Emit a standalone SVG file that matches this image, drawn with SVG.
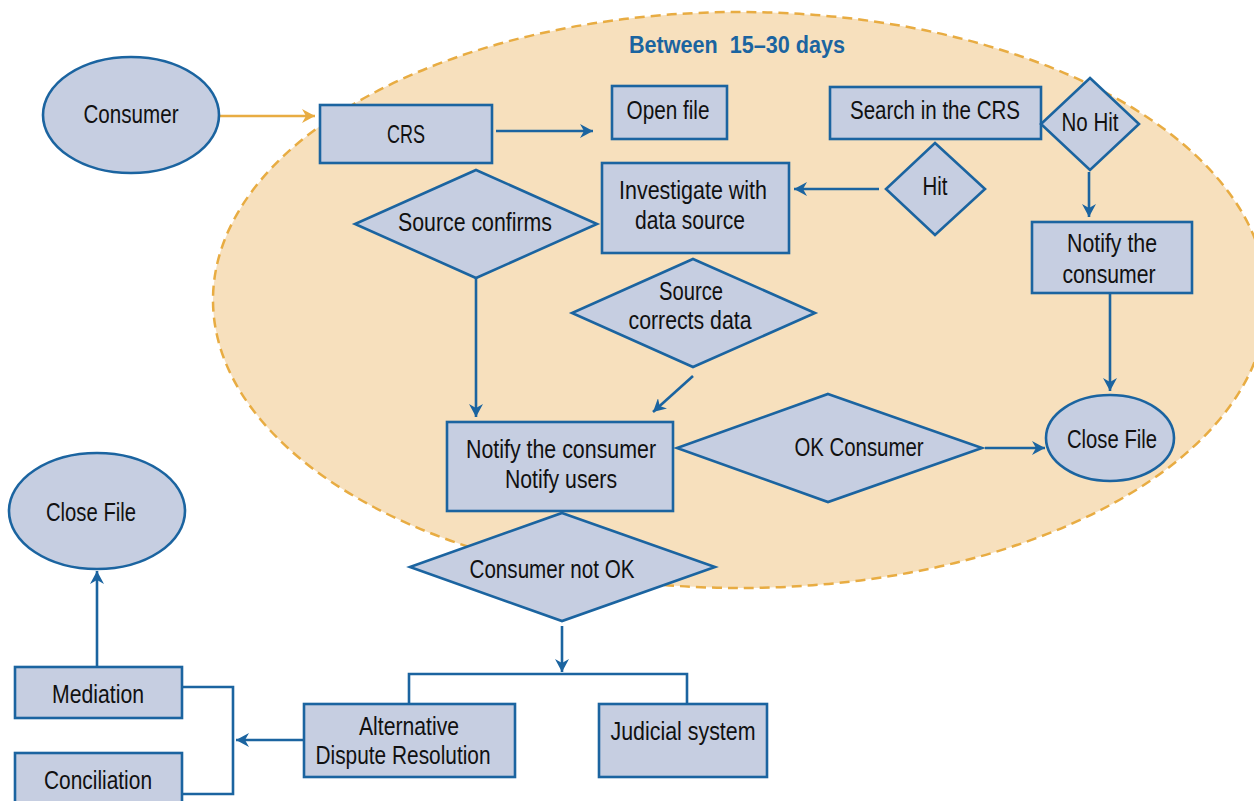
<svg xmlns="http://www.w3.org/2000/svg" width="1254" height="801" viewBox="0 0 1254 801">
  <style>
    .node { fill: #c6cee1; stroke: #1b64a0; stroke-width: 2.6; }
    .lbl { font-family: "Liberation Sans", Arial, sans-serif; font-size: 25.5px; fill: #111; text-anchor: middle; }
    .title { font-family: "Liberation Sans", Arial, sans-serif; font-size: 23.5px; font-weight: bold; fill: #1b64a0; text-anchor: middle; }
    .edge { fill: none; stroke: #1b64a0; stroke-width: 2.6; }
    .edge-in { fill: none; stroke: #e8ac42; stroke-width: 2.6; }
  </style>
  <defs>
    <marker id="arrow" markerUnits="userSpaceOnUse" markerWidth="14" markerHeight="14" refX="13" refY="7" orient="auto">
      <path d="M0,0 L13,7 L0,14 L4,7 Z" fill="#1b64a0"/>
    </marker>
    <marker id="arrow-in" markerUnits="userSpaceOnUse" markerWidth="14" markerHeight="14" refX="13" refY="7" orient="auto">
      <path d="M0,0 L13,7 L0,14 L4,7 Z" fill="#e8ac42"/>
    </marker>
  </defs>

  <rect width="1254" height="801" fill="#ffffff"/>

  <!-- time window region -->
  <g id="window">
    <ellipse cx="740" cy="300" rx="527" ry="288" fill="#f7e0bd" stroke="#e8ac42" stroke-width="2.5" stroke-dasharray="10 6"/>
    <text class="title" x="737" y="53" textLength="216" lengthAdjust="spacingAndGlyphs" xml:space="preserve">Between  15–30 days</text>
  </g>

  <!-- connectors -->
  <g id="connectors">
    <line class="edge-in" x1="219" y1="116" x2="315" y2="116" marker-end="url(#arrow-in)"/>
    <line class="edge" x1="496" y1="131" x2="593" y2="131" marker-end="url(#arrow)"/>
    <line class="edge" x1="879" y1="189" x2="794" y2="189" marker-end="url(#arrow)"/>
    <line class="edge" x1="1089" y1="172" x2="1089" y2="217" marker-end="url(#arrow)"/>
    <line class="edge" x1="1110" y1="293" x2="1110" y2="391" marker-end="url(#arrow)"/>
    <line class="edge" x1="476" y1="278" x2="476" y2="417" marker-end="url(#arrow)"/>
    <line class="edge" x1="693" y1="376" x2="653" y2="412" marker-end="url(#arrow)"/>
    <line class="edge" x1="985" y1="448" x2="1045" y2="448" marker-end="url(#arrow)"/>
    <line class="edge" x1="562" y1="626" x2="562" y2="672" marker-end="url(#arrow)"/>
    <polyline class="edge" points="409,705 409,674 687,674 687,705"/>
    <line class="edge" x1="304" y1="740" x2="236" y2="740" marker-end="url(#arrow)"/>
    <polyline class="edge" points="182,687 233,687 233,794 182,794"/>
    <line class="edge" x1="97" y1="666" x2="97" y2="571" marker-end="url(#arrow)"/>
  </g>

  <g id="consumer">
    <ellipse class="node" cx="131" cy="115" rx="88" ry="58"/>
    <text class="lbl" x="131" y="123" textLength="95" lengthAdjust="spacingAndGlyphs">Consumer</text>
  </g>
  <g id="crs">
    <rect class="node" x="320" y="105" width="172" height="58"/>
    <text class="lbl" x="406" y="143" textLength="38" lengthAdjust="spacingAndGlyphs">CRS</text>
  </g>
  <g id="open-file">
    <rect class="node" x="612" y="86" width="115" height="53"/>
    <text class="lbl" x="668" y="119" textLength="83" lengthAdjust="spacingAndGlyphs">Open file</text>
  </g>
  <g id="search-crs">
    <rect class="node" x="830" y="87" width="211" height="52"/>
    <text class="lbl" x="935" y="119" textLength="170" lengthAdjust="spacingAndGlyphs">Search in the CRS</text>
  </g>
  <g id="no-hit">
    <polygon class="node" points="1090,78 1139,124 1090,170 1041,124"/>
    <text class="lbl" x="1090" y="131" textLength="57" lengthAdjust="spacingAndGlyphs">No Hit</text>
  </g>
  <g id="hit">
    <polygon class="node" points="935,143 985,189 935,235 886,189"/>
    <text class="lbl" x="935" y="195" textLength="25" lengthAdjust="spacingAndGlyphs">Hit</text>
  </g>
  <g id="investigate">
    <rect class="node" x="602" y="163" width="187" height="90"/>
    <text class="lbl" x="693" y="199" textLength="148" lengthAdjust="spacingAndGlyphs">Investigate with</text>
    <text class="lbl" x="690" y="229" textLength="110" lengthAdjust="spacingAndGlyphs">data source</text>
  </g>
  <g id="source-confirms">
    <polygon class="node" points="476,170 597,224 476,278 355,224"/>
    <text class="lbl" x="475" y="231" textLength="154" lengthAdjust="spacingAndGlyphs">Source confirms</text>
  </g>
  <g id="source-corrects">
    <polygon class="node" points="693,259 815,313 693,367 572,313"/>
    <text class="lbl" x="691" y="300" textLength="64" lengthAdjust="spacingAndGlyphs">Source</text>
    <text class="lbl" x="690" y="329" textLength="123" lengthAdjust="spacingAndGlyphs">corrects data</text>
  </g>
  <g id="notify-consumer-users">
    <rect class="node" x="447" y="422" width="226" height="89"/>
    <text class="lbl" x="561" y="458" textLength="190" lengthAdjust="spacingAndGlyphs">Notify the consumer</text>
    <text class="lbl" x="561" y="488" textLength="112" lengthAdjust="spacingAndGlyphs">Notify users</text>
  </g>
  <g id="ok-consumer">
    <polygon class="node" points="828,394 982,448 828,502 677,448"/>
    <text class="lbl" x="859" y="456" textLength="129" lengthAdjust="spacingAndGlyphs">OK Consumer</text>
  </g>
  <g id="notify-consumer">
    <rect class="node" x="1032" y="222" width="160" height="71"/>
    <text class="lbl" x="1112" y="252" textLength="90" lengthAdjust="spacingAndGlyphs">Notify the</text>
    <text class="lbl" x="1109" y="283" textLength="93" lengthAdjust="spacingAndGlyphs">consumer</text>
  </g>
  <g id="close-file-ok">
    <ellipse class="node" cx="1110" cy="438" rx="64" ry="43"/>
    <text class="lbl" x="1112" y="448" textLength="90" lengthAdjust="spacingAndGlyphs">Close File</text>
  </g>
  <g id="consumer-not-ok">
    <polygon class="node" points="562,513 715,567 562,621 410,567"/>
    <text class="lbl" x="552" y="578" textLength="165" lengthAdjust="spacingAndGlyphs">Consumer not OK</text>
  </g>
  <g id="adr">
    <rect class="node" x="304" y="704" width="211" height="73"/>
    <text class="lbl" x="409" y="735" textLength="100" lengthAdjust="spacingAndGlyphs">Alternative</text>
    <text class="lbl" x="403" y="764" textLength="175" lengthAdjust="spacingAndGlyphs">Dispute Resolution</text>
  </g>
  <g id="judicial">
    <rect class="node" x="599" y="704" width="168" height="73"/>
    <text class="lbl" x="683" y="740" textLength="145" lengthAdjust="spacingAndGlyphs">Judicial system</text>
  </g>
  <g id="mediation">
    <rect class="node" x="15" y="667" width="167" height="51"/>
    <text class="lbl" x="98" y="703" textLength="92" lengthAdjust="spacingAndGlyphs">Mediation</text>
  </g>
  <g id="conciliation">
    <rect class="node" x="15" y="753" width="167" height="60"/>
    <text class="lbl" x="98" y="789" textLength="108" lengthAdjust="spacingAndGlyphs">Conciliation</text>
  </g>
  <g id="close-file-adr">
    <ellipse class="node" cx="97" cy="511" rx="88" ry="58"/>
    <text class="lbl" x="91" y="521" textLength="90" lengthAdjust="spacingAndGlyphs">Close File</text>
  </g>
</svg>
